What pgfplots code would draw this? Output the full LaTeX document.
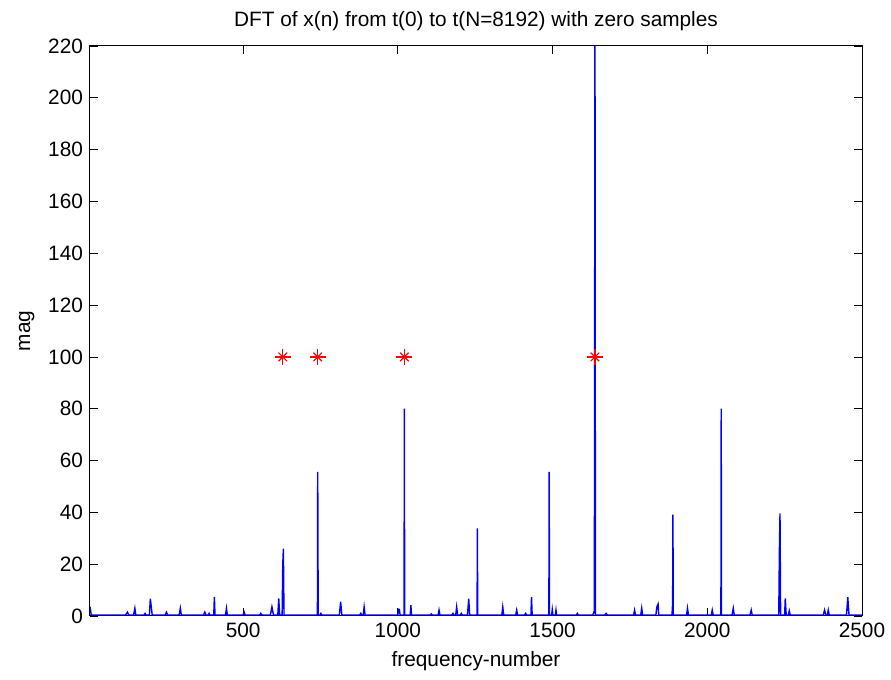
\documentclass[border=0pt]{standalone}
\usepackage{fontspec}
\setmainfont{Liberation Sans}
\usepackage{pgfplots}
\pgfplotsset{compat=1.18}

\newcommand{\mf}{\fontsize{10.4}{12}\selectfont}

\begin{document}
\begin{tikzpicture}
\begin{axis}[
  name=ax,
  scale only axis,
  width=386pt,
  height=285pt,
  xmin=5, xmax=2500,
  ymin=0, ymax=220,
  xtick={500,1000,1500,2000,2500},
  ytick={0,20,...,220},
  tick align=inside,
  major tick length=4pt,
  tick style={black, line width=0.4pt},
  axis line style={black, line width=0.5pt},
  ticklabel style={font=\mf},
  /pgf/number format/assume math mode=true,
  /pgf/number format/1000 sep={},
  xlabel={frequency-number},
  ylabel={mag},
  label style={font=\mf},
  title={DFT of x(n) from t(0) to t(N=8192) with zero samples},
  title style={font=\mf, yshift=-2pt},
  clip=true,
]
\addplot[color=blue, line width=0.7pt] coordinates {
(5,3.6) (9,0.4) (120,0.4) (126,1.5) (130,0.4) (146,0.4) (150,3) (153,0.4)
(180,0.4) (183,1) (186,0.4) (197,0.4) (200,6.7) (206,0.4)
(248,0.4) (252,1.5) (256,0.4) (293,0.4) (297,3) (300,0.4)
(372,0.4) (376,1.5) (380,0.4) (387,0.4) (390,1) (393,0.4) (405,0.4) (407,7.4) (409,0.4)
(443,0.4) (446,3) (449,0.4) (500,0.4) (503,1.5) (506,0.4) (554,0.4) (557,1) (560,0.4)
(588,0.4) (593,3.5) (598,0.4) (612,0.4) (615,6.8) (618,0.4) (626,0.4) (628,20) (630,26) (632,0.4)
(740,0.4) (741,55.6) (742.5,0.4) (748,0.4) (751,1) (754,0.4)
(811,0.4) (815,5.5) (819,0.4) (877,0.4) (880,1) (883,0.4) (888,0.4) (891,3.5) (894,0.4)
(1000,0.4) (1002,2.6) (1005,2.5) (1007,0.4) (1020,0.4) (1021,80) (1022,0.4)
(1040,0.4) (1042,4.2) (1044,0.4) (1105,0.4) (1108,0.8) (1111,0.4)
(1130,0.4) (1133,2.3) (1136,0.4) (1175,0.4) (1178,1) (1181,0.4) (1187,0.4) (1190,3.5) (1193,0.4)
(1202,0.4) (1205,1) (1208,0.4) (1225,0.4) (1229,6.7) (1232,0.4) (1256,0.4) (1257,33.8) (1258,0.4)
(1336,0.4) (1339,3.5) (1342,0.4) (1381,0.4) (1384,2.3) (1387,0.4) (1410,0.4) (1413,1) (1416,0.4)
(1430,0.4) (1432,7.3) (1434,0.4) (1488,0.4) (1489,55.6) (1490,0.4) (1497,0.4) (1499,2.5) (1501,0.4)
(1509,0.4) (1511,2.3) (1513,0.4) (1577,0.4) (1580,1) (1583,0.4)
(1630,0.4) (1635,2) (1637,240) (1638.5,0.4) (1669,0.4) (1673,1) (1677,0.4)
(1762,0.4) (1765,2.3) (1768,0.4) (1785,0.4) (1788,3) (1791,0.4)
(1834,0.4) (1837,3.5) (1841,4.6) (1843,0.4) (1886,0.4) (1888,5) (1889,39.1) (1890,0.4)
(1933,0.4) (1936,3) (1939,0.4) (2013,0.4) (2016,2.3) (2019,0.4)
(2044,0.4) (2045,80) (2046,0.4) (2080,0.4) (2084,3) (2087,0.4) (2138,0.4) (2142,2.3) (2145,0.4)
(2231,0.4) (2233,25) (2235,39.6) (2237,0.4) (2250,0.4) (2252,6.8) (2255,0.4) (2262,0.4) (2265,2) (2268,0.4)
(2375,0.4) (2379,2.3) (2383,0.4) (2388,0.4) (2391,2.3) (2394,0.4)
(2450,0.4) (2454,7.3) (2458,0.4) (2500,0.4)
};
\addplot[only marks, color=red, mark=+, mark size=4pt, mark options={line width=0.6pt}] coordinates {
(628,100) (741,100) (1021,100) (1637,100)
};
\addplot[only marks, color=red, mark=x, mark size=3pt, mark options={line width=0.6pt}] coordinates {
(628,100) (741,100) (1021,100) (1637,100)
};
\coordinate (bl) at (rel axis cs:0,0);
\coordinate (tr) at (rel axis cs:1,1);
\end{axis}
\pgfresetboundingbox
\path ([shift={(-45pt,-32pt)}]bl) rectangle ([shift={(14.5pt,23pt)}]tr);
\end{tikzpicture}
\end{document}
